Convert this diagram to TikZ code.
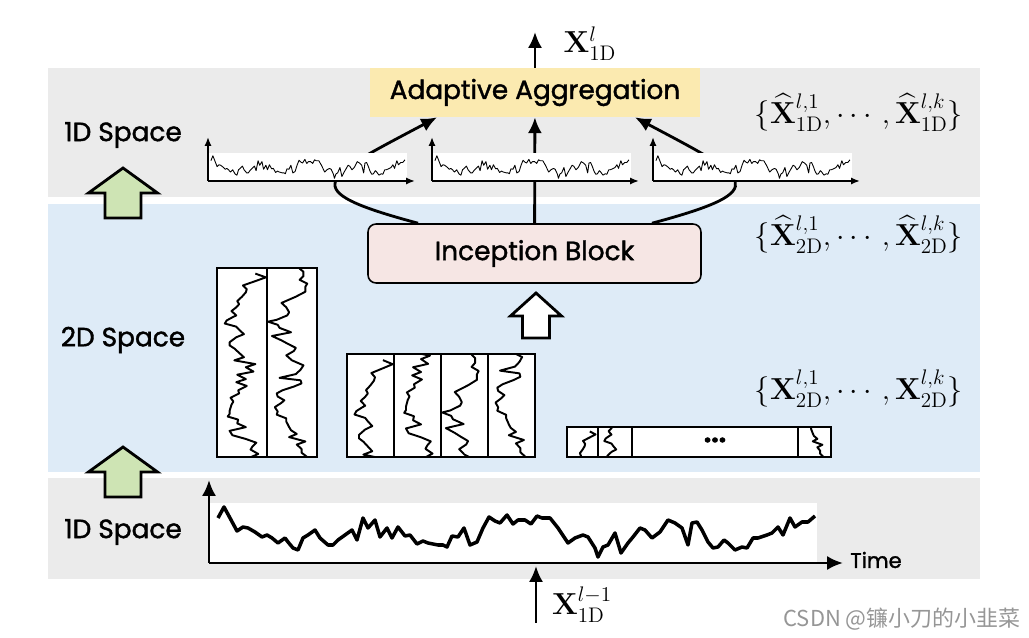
\documentclass[tikz,border=0pt]{standalone}
\usepackage[no-math]{fontspec}
\usepackage{amsmath}
\usepackage{amssymb}
\setmainfont{Poppins}[FakeBold=1.5]
\newfontfamily\cjk{Noto Sans CJK SC}
\usetikzlibrary{arrows.meta,positioning}
\definecolor{bandgray}{RGB}{235,235,235}
\definecolor{bandblue}{RGB}{222,235,247}
\definecolor{aggfill}{RGB}{251,234,176}
\definecolor{incfill}{RGB}{246,230,228}
\definecolor{upgreen}{RGB}{206,228,180}
\definecolor{markgray}{RGB}{150,150,150}

% one series, time/height in px from the axis origin
\def\tslist{9/45, 15/56, 21/45, 28/32, 34/36, 39/35, 46/31, 53/26, 58/28, 63/25,
  69/20, 76/25, 79/21, 84/15, 89/13, 94/25, 99/28, 106/33, 111/25, 119/18, 124/18,
  129/23, 136/28, 143/33, 148/23, 154/45, 159/35, 166/43, 171/26, 178/35, 183/25,
  189/36, 196/27, 201/28, 208/19, 214/22, 219/20, 229/18, 234/18, 238/16, 243/27,
  249/26, 255/35, 261/18, 268/21, 274/35, 280/46, 286/42, 291/40, 298/48, 304/39,
  309/43, 316/43, 322/39, 328/47, 333/45, 341/45, 349/35, 359/20, 366/25, 374/28,
  379/26, 386/15, 389/6, 394/16, 399/18, 406/30, 412/10, 419/20, 424/26, 431/35,
  436/33, 443/25, 451/31, 459/43, 466/40, 473/35, 479/18, 483/40, 488/41, 493/33,
  499/21, 504/15, 509/16, 515/23, 519/20, 526/13, 533/16, 538/15, 544/25, 549/25,
  558/28, 563/30, 569/36, 574/28, 581/45, 586/36, 593/41, 599/41, 606/47}

% one column of a 2D block: x, y, w, h, start time, px per time step
\newcommand{\colwave}[6]{%
  \begin{scope}
    \clip (#1,#2) rectangle ++(#3,#4);
    \draw[colline] ({#1+#3/2+(45-31)*(#3-8)/44},{#2+(9-#5)*#6})
      \foreach \t/\h in \tslist {-- ({#1+#3/2+(\h-31)*(#3-8)/44},{#2+(\t-#5)*#6})};
  \end{scope}}

\begin{document}
\begin{tikzpicture}[x=0.02cm,y=-0.02cm,
    spacelabel/.style={font=\fontsize{15}{18}\selectfont},
    mathlabel/.style={font=\fontsize{16.5}{20}\selectfont},
    aggbox/.style={fill=aggfill,minimum width=6.6cm,minimum height=0.98cm,
                   font=\fontsize{15}{18}\selectfont},
    incbox/.style={draw,line width=0.9pt,fill=incfill,rounded corners=0.16cm,
                   minimum width=6.66cm,minimum height=1.18cm,font=\fontsize{15}{18}\selectfont},
    flow/.style={-{Latex[length=9pt,width=8pt]},line width=1.6pt},
    axis/.style={-{Latex[length=5pt,width=4pt]},line width=1pt},
    bigaxis/.style={-{Latex[length=9pt,width=8pt]},line width=1.6pt},
    thinline/.style={line width=0.5pt,line join=round},
    thickline/.style={line width=2pt,line join=round},
    colline/.style={line width=1.1pt,line join=round},
    grid2d/.style={draw,line width=1.6pt},
    fatarrow/.pic={\draw[pic actions,line width=1.6pt,line join=miter]
      (0,0) -- (-34.5,25) -- (-18,25) -- (-18,50) -- (18,50) -- (18,25) -- (34.5,25) -- cycle;},
    smallarrow/.pic={\draw[pic actions,line width=1.6pt,line join=miter]
      (0,0) -- (-25.5,23) -- (-13.5,23) -- (-13.5,45) -- (13.5,45) -- (13.5,23) -- (25.5,23) -- cycle;}
  ]
  \useasboundingbox (0,0) rectangle (1029,638);

  % bands
  \fill[bandgray] (48,68) rectangle (980,197);
  \fill[bandblue] (48,204) rectangle (980,472);
  \fill[bandgray] (48,478) rectangle (980,579);

  \node[spacelabel] (top1d) at (123,135) {1D Space};
  \node[spacelabel] (mid2d) at (123,340) {2D Space};
  \node[spacelabel] (low1d) at (123,532) {1D Space};
  \pic[fill=upgreen] at (123,168) {fatarrow};
  \pic[fill=upgreen] at (123,447) {fatarrow};

  \node[aggbox] (agg) at (535,92.5) {Adaptive Aggregation};
  \node[incbox] (incep) at (534.5,253.5) {Inception Block};

  % inception block to aggregation
  \draw[flow] (incep) -- (agg);
  \draw[flow] ([xshift=-2.33cm]incep.north) to[out=165,in=-152,looseness=3.1] ([xshift=-1.96cm]agg.south);
  \draw[flow] ([xshift=2.35cm]incep.north) to[out=15,in=-28,looseness=3.1] ([xshift=2cm]agg.south);

  \coordinate (out) at (535,32);
  \draw[flow] (agg) -- (out);
  \node[mathlabel] (xout) at (590,44) {$\mathbf{X}^{l}_{\mathrm{1D}}$};

  % 1D outputs
  \foreach \ox in {208,432,653} {
    \fill[white] (\ox,153) rectangle ++(199,28);
    \begin{scope}[shift={(\ox,181)},xscale=0.325,yscale=0.45]
      \draw[thinline] (9,-45) \foreach \t/\h in \tslist {-- (\t,-\h)};
    \end{scope}
    \draw[axis] (\ox,181) -- ++(0,-44);
    \draw[axis] (\ox,181) -- ++(207,0);
  }

  \node[mathlabel] (hat1d) at (859,113) {$\{\widehat{\mathbf{X}}^{l,1}_{\mathrm{1D}},\cdots,\widehat{\mathbf{X}}^{l,k}_{\mathrm{1D}}\}$};
  \node[mathlabel] (hat2d) at (859,235) {$\{\widehat{\mathbf{X}}^{l,1}_{\mathrm{2D}},\cdots,\widehat{\mathbf{X}}^{l,k}_{\mathrm{2D}}\}$};
  \node[mathlabel] (in2d) at (859,389) {$\{\mathbf{X}^{l,1}_{\mathrm{2D}},\cdots,\mathbf{X}^{l,k}_{\mathrm{2D}}\}$};

  \pic[fill=white] at (536,293) {smallarrow};

  % 2D blocks
  \fill[white] (217,268) rectangle (317,457);
  \colwave{217}{268}{50}{189}{0}{0.624}
  \colwave{267}{268}{50}{189}{303}{0.624}
  \draw[grid2d] (217,268) rectangle (317,457) (267,268) -- (267,457);

  \fill[white] (347,354) rectangle (535,457);
  \foreach \c in {0,1,2,3} {
    \colwave{347+47*\c}{354}{47}{103}{151.5*\c}{0.68}
  }
  \draw[grid2d] (347,354) rectangle (535,457) (394,354) -- (394,457)
    (441,354) -- (441,457) (488,354) -- (488,457);

  \fill[white] (567,427) rectangle (831,457);
  \colwave{567}{427}{31}{30}{0}{0.495}
  \colwave{598}{427}{34}{30}{60.6}{0.495}
  \colwave{798}{427}{33}{30}{545}{0.495}
  \draw[grid2d] (567,427) rectangle (831,457) (598,427) -- (598,457)
    (632,427) -- (632,457) (798,427) -- (798,457);
  \node[font=\fontsize{15}{18}\selectfont\bfseries] (gap) at (715,440) {...};

  % 1D input
  \coordinate (o1) at (209,563);
  \fill[white] (209,503) rectangle (817,563);
  \begin{scope}[shift={(o1)}]
    \draw[thickline] (9,-45) \foreach \t/\h in \tslist {-- (\t,-\h)};
  \end{scope}
  \draw[bigaxis] (o1) -- (209,480);
  \coordinate (tend) at (843,563);
  \draw[bigaxis] (o1) -- (tend);
  \node[font=\fontsize{12}{14}\selectfont] (time) at (876,560) {Time};

  \coordinate (in) at (536,623);
  \coordinate (hit) at (536,566);
  \draw[flow] (in) -- (hit);
  \node[mathlabel] (xin) at (582,605) {$\mathbf{X}^{l-1}_{\mathrm{1D}}$};

  \node[font=\cjk\fontsize{12.5}{14}\selectfont,text=markgray] (mark) at (902,619) {CSDN @镰小刀的小韭菜};
\end{tikzpicture}
\end{document}
